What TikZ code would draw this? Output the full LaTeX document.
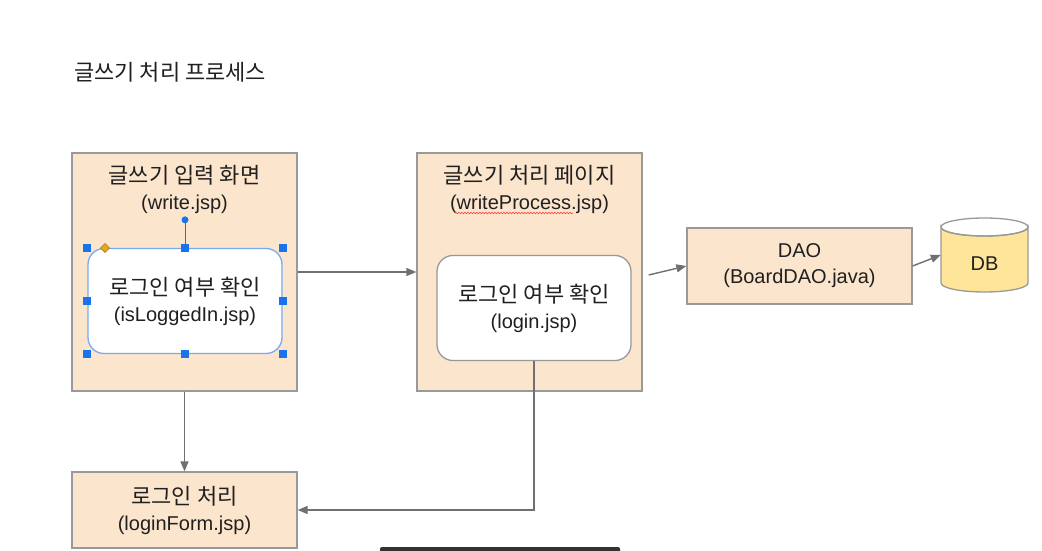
\documentclass[tikz,border=0pt]{standalone}
\usepackage{fontspec}
\setmainfont{Liberation Sans}
\newfontfamily\kr{Noto Sans CJK KR}[Scale=1.1]
\usepackage{tikz}
\usetikzlibrary{arrows.meta,positioning,calc,decorations.pathmorphing}
\definecolor{melocoton}{HTML}{FCE5CD}
\definecolor{borde}{HTML}{999999}
\definecolor{flecha}{HTML}{707070}
\definecolor{amarillo}{HTML}{FFE599}
\definecolor{selec}{HTML}{1A73E8}
\definecolor{rombo}{HTML}{E6A817}
\definecolor{texto}{HTML}{202020}
\tikzset{
  pagina/.style={draw=borde,fill=melocoton,line width=1.3pt,minimum width=225pt,
                 minimum height=238pt,inner sep=0pt},
  modulo/.style={draw=borde,fill=melocoton,line width=1.3pt,minimum width=225pt,
                 minimum height=76pt,inner sep=0pt,align=center,text=texto,
                 font=\fontsize{20}{26}\selectfont},
  chequeo/.style={draw=borde,fill=white,line width=1.3pt,rounded corners=16pt,
                  minimum width=194pt,minimum height=105pt,inner sep=0pt,align=center,
                  text=texto,font=\fontsize{20}{26}\selectfont},
  titulo/.style={align=center,text=texto,inner sep=0pt,font=\fontsize{20}{26}\selectfont},
  enlace/.style={-{Triangle[length=10pt,width=8pt]},line width=1.4pt,flecha},
  asa/.style={fill=selec,minimum size=8pt,inner sep=0pt},
}
\begin{document}
\begin{tikzpicture}[x=1pt,y=-1pt]
  \useasboundingbox[fill=white] (0,0) rectangle (1042,551);
  \node[titulo,anchor=west,font=\fontsize{20}{24}\selectfont\kr] (cab) at (74,72) {글쓰기 처리 프로세스};
  % pagina de entrada
  \node[pagina] (write) at (184.5,272) {};
  \node[titulo] (writet) at ([yshift=-37pt]write.north) {{\kr 글쓰기 입력 화면}\\(write.jsp)};
  \node[chequeo,draw=selec!60] (chk1) at (185,301) {{\kr 로그인 여부 확인}\\(isLoggedIn.jsp)};
  % pagina de proceso
  \node[pagina] (proc) at (529.5,272) {};
  \node[titulo] (proct) at ([yshift=-37pt]proc.north) {{\kr 글쓰기 처리 페이지}\\(writeProcess.jsp)};
  \node[chequeo] (chk2) at (534,308) {{\kr 로그인 여부 확인}\\(login.jsp)};
  \draw[red!75,line width=0.6pt,decorate,decoration={snake,amplitude=0.8pt,segment length=3pt}]
    (455,213) -- (573,213);
  % DAO y base de datos
  \node[modulo] (dao) at (799.5,266) {DAO\\(BoardDAO.java)};
  \fill[amarillo,draw=borde,line width=1.3pt] (941,227) -- (941,283)
    arc[start angle=180,end angle=0,x radius=43.5,y radius=9] -- (1028,227)
    arc[start angle=0,end angle=180,x radius=43.5,y radius=9] -- cycle;
  \draw[borde,line width=1.3pt] (984.5,227) ellipse[x radius=43.5,y radius=9];
  \node[minimum width=87pt,minimum height=74pt,inner sep=0pt] (db) at (984.5,255) {};
  \node[titulo] (dbt) at (984.5,264) {DB};
  % login
  \node[modulo] (loginform) at (184.5,510) {{\kr 로그인 처리}\\(loginForm.jsp)};
  % conexiones
  \draw[enlace] (write.east) -- (proc.west);
  \draw[enlace] ([xshift=6pt,yshift=-3pt]proc.east) -- (dao.west);
  \draw[enlace] (dao.east) -- (db.west);
  \draw[enlace] (write.south) -- (loginform.north);
  \draw[enlace] (chk2.south) |- (loginform.east);
  % seleccion del editor
  \draw[selec,line width=1pt] (chk1.north) -- ++(0,-28) node[circle,fill=selec,minimum size=7pt,inner sep=0pt] (rot) {};
  \foreach \a in {north west,north,north east,west,east,south west,south,south east}
    \node[asa] at (chk1.\a) {};
  \fill[rombo,draw=rombo!70!black,line width=0.5pt] (105,243.5) -- (109.5,248) -- (105,252.5) -- (100.5,248) -- cycle;
  % barra inferior
  \fill[black!80,rounded corners=2pt] (380,547) rectangle (620,553);
\end{tikzpicture}
\end{document}
